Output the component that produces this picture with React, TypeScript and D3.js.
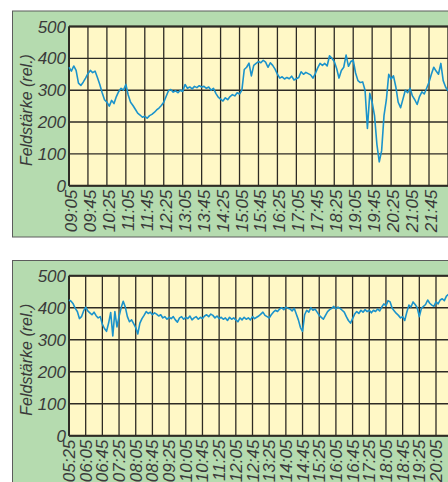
import * as d3 from "d3";

// y axis (relative field strength)
const yTicks = [0, 100, 200, 300, 400, 500];

// upper chart: samples every 5 minutes from 09:05
const topStart = "09:05";
const topTicks = [
  "09:05", "09:45", "10:25", "11:05", "11:45", "12:25", "13:05", "13:45", "14:25", "15:05",
  "15:45", "16:25", "17:05", "17:45", "18:25", "19:05", "19:45", "20:25", "21:05", "21:45",
];
const topValues = [
  372, 360, 376, 362, 322, 315, 325, 338, 352, 362, 355, 360, 340, 318, 292, 270, 262, 250, 268, 258,
  280, 296, 306, 300, 318, 285, 262, 252, 240, 228, 222, 215, 218, 212, 220, 224, 230, 238, 244, 252,
  262, 280, 298, 302, 294, 298, 292, 300, 296, 318, 306, 310, 304, 312, 308, 314, 310, 312, 306, 310,
  300, 306, 290, 278, 272, 266, 276, 270, 280, 286, 282, 292, 288, 300, 365, 372, 385, 345, 378, 384,
  390, 386, 394, 388, 372, 386, 378, 366, 350, 338, 342, 335, 340, 336, 344, 332, 336, 340, 358, 350,
  356, 352, 348, 338, 352, 370, 384, 378, 384, 376, 408, 400, 390, 368, 338, 362, 372, 410, 375, 390,
  394, 354, 330, 324, 326, 300, 180, 290, 262, 220, 130, 75, 110, 220, 270, 350, 335, 345, 310, 262,
  245, 272, 300, 292, 306, 282, 270, 255, 280, 295, 288, 306, 325, 350, 372, 360, 350, 384, 330, 310,
  298,
];

// lower chart: samples every 5 minutes from 05:25
const bottomStart = "05:25";
const bottomTicks = [
  "05:25", "06:05", "06:45", "07:25", "08:05", "08:45", "09:25", "10:05", "10:45", "11:25", "12:05",
  "12:45", "13:25", "14:05", "14:45", "15:25", "16:05", "16:45", "17:25", "18:05", "18:45", "19:25", "20:05",
];
const bottomValues = [
  424, 420, 412, 398, 388, 366, 372, 390, 402, 390, 384, 378, 386, 375, 368, 372, 348, 335, 326, 352,
  385, 312, 388, 340, 372, 400, 420, 402, 372, 356, 362, 350, 338, 318, 352, 366, 376, 388, 382, 386,
  378, 384, 380, 374, 378, 368, 372, 364, 370, 366, 372, 362, 355, 368, 372, 364, 370, 366, 374, 362,
  368, 372, 364, 370, 366, 374, 378, 372, 380, 376, 368, 374, 366, 370, 364, 368, 360, 370, 364, 368,
  362, 356, 368, 362, 370, 364, 368, 362, 372, 366, 370, 374, 380, 386, 376, 372, 368, 378, 386, 392,
  388, 396, 400, 394, 402, 398, 396, 390, 398, 380, 362, 338, 326, 378, 392, 386, 400, 392, 396, 386,
  376, 370, 364, 376, 388, 394, 398, 404, 396, 402, 398, 392, 386, 372, 360, 352, 366, 380, 388, 382,
  392, 386, 394, 388, 392, 384, 392, 388, 396, 390, 402, 412, 406, 422, 418, 398, 390, 382, 376, 368,
  372, 360, 386, 408, 402, 418, 410, 400, 372, 398, 404, 410, 424, 414, 408, 404, 418, 412, 424, 428,
  422, 436, 442,
];

const W = 448;
const H = 482;
const FONT = "'Liberation Sans', Arial, sans-serif";
const GREEN = "#b5dbaf";
const PAPER = "#fff8c6";
const GRID = "#2e2b24";
const INK = "#3a3a3a";
const LINE = "#1b93cb";

const toMin = (s: string) => {
  const [h, m] = s.split(":").map(Number);
  return h * 60 + m;
};

interface PanelProps {
  frameTop: number;
  frameHeight: number;
  plotTop: number;
  plotBottom: number;
  start: string;
  lastTick: string;
  lastX: number;
  ticks: string[];
  values: number[];
  labelShift: number;
}

function Panel(p: PanelProps) {
  const t0 = toMin(p.start);
  const x = d3.scaleLinear().domain([t0, toMin(p.lastTick)]).range([69, p.lastX]);
  const y = d3.scaleLinear().domain([0, 500]).range([p.plotBottom, p.plotTop]);

  // grid continues past the right edge of the picture
  const gridTimes = d3.range(t0, t0 + 40 * 40, 40).filter((t) => x(t) < W + 20);

  const line = d3
    .line<number>()
    .x((_, i) => x(t0 + i * 5))
    .y((d) => y(d));

  const plotLeft = x(t0);
  const titleY = (p.plotTop + p.plotBottom) / 2 + 4;

  return (
    <g>
      <rect x={12.5} y={p.frameTop} width={W} height={p.frameHeight} fill={GREEN} stroke="#5c5c5c" strokeWidth={1} />
      <rect x={plotLeft} y={p.plotTop} width={W} height={p.plotBottom - p.plotTop} fill={PAPER} />
      {yTicks.map((v) => (
        <line key={"h" + v} x1={plotLeft} x2={W + 5} y1={y(v)} y2={y(v)} stroke={GRID} strokeWidth={1.4} />
      ))}
      {gridTimes.map((t) => (
        <line key={"v" + t} x1={x(t)} x2={x(t)} y1={p.plotTop} y2={p.plotBottom} stroke={GRID} strokeWidth={1.3} />
      ))}
      <line x1={plotLeft} x2={plotLeft} y1={p.plotTop} y2={p.plotBottom} stroke={GRID} strokeWidth={2} />
      <line x1={plotLeft} x2={W + 5} y1={p.plotBottom} y2={p.plotBottom} stroke={GRID} strokeWidth={2} />
      <line x1={plotLeft} x2={W + 5} y1={p.plotTop} y2={p.plotTop} stroke={GRID} strokeWidth={2} />
      <path d={line(p.values) ?? ""} fill="none" stroke={LINE} strokeWidth={1.6} strokeLinejoin="round" />
      {yTicks.map((v) => (
        <text
          key={"yl" + v}
          x={66}
          y={y(v) + 6}
          textAnchor="end"
          fontSize={17}
          fontStyle="italic"
          fill={INK}
          fontFamily={FONT}
        >
          {v}
        </text>
      ))}
      {p.ticks.map((s) => (
        <text
          key={"xl" + s}
          transform={`translate(${x(toMin(s)) + p.labelShift},${p.plotBottom + 4}) rotate(-90)`}
          textAnchor="end"
          fontSize={17}
          fontStyle="italic"
          fill={INK}
          fontFamily={FONT}
        >
          {s}
        </text>
      ))}
      <text
        transform={`translate(32,${titleY}) rotate(-90)`}
        textAnchor="middle"
        fontSize={16}
        fontStyle="italic"
        fill={INK}
        fontFamily={FONT}
      >
        Feldstärke (rel.)
      </text>
    </g>
  );
}

export default function App() {
  return (
    <svg
      width={W}
      height={H}
      viewBox={`0 0 ${W} ${H}`}
      style={{ position: "absolute", left: 0, top: 0, display: "block", background: "#fff" }}
    >
      <Panel
        frameTop={11}
        frameHeight={226}
        plotTop={26.5}
        plotBottom={185.7}
        start={topStart}
        lastTick="21:45"
        lastX={429}
        ticks={topTicks}
        values={topValues}
        labelShift={8}
      />
      <Panel
        frameTop={260.5}
        frameHeight={240}
        plotTop={275.7}
        plotBottom={435.7}
        start={bottomStart}
        lastTick="20:05"
        lastX={436}
        ticks={bottomTicks}
        values={bottomValues}
        labelShift={6}
      />
    </svg>
  );
}
